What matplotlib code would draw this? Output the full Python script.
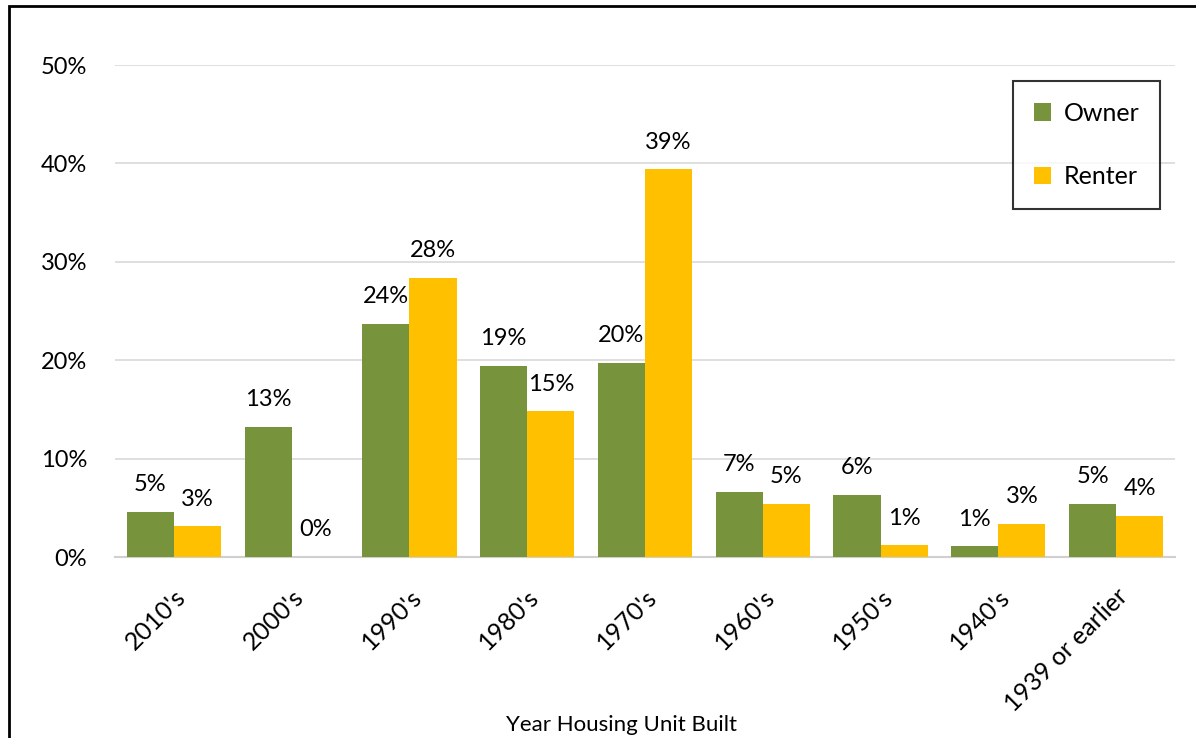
import numpy as np
import matplotlib.pyplot as plt
from matplotlib.patches import Rectangle

categories = ["2010's", "2000's", "1990's", "1980's", "1970's",
              "1960's", "1950's", "1940's", "1939 or earlier"]
owner = [4.6, 13.2, 23.7, 19.4, 19.7, 6.6, 6.3, 1.1, 5.4]
renter = [3.1, 0.0, 28.4, 14.8, 39.4, 5.4, 1.2, 3.4, 4.2]

green = '#77933C'
yellow = '#FFC000'

plt.rcParams['font.family'] = ['Lato', 'DejaVu Sans']

fig = plt.figure(figsize=(11.96, 7.38), dpi=100)
ax = fig.add_axes([115/1196, 1 - 557/738, 1060/1196, 492/738])

x = np.arange(len(categories))
w = 0.4
b1 = ax.bar(x - w/2, owner, w, color=green, label='Owner', zorder=3)
b2 = ax.bar(x + w/2, renter, w, color=yellow, label='Renter', zorder=3)

for bars, vals in ((b1, owner), (b2, renter)):
    for rect, v in zip(bars, vals):
        ax.annotate('%d%%' % round(v), (rect.get_x() + rect.get_width()/2, v),
                    xytext=(0, 12), textcoords='offset points',
                    ha='center', va='bottom', fontsize=17)

ax.set_xlim(-0.5, len(categories) - 0.5)
ax.set_ylim(0, 50)
ax.set_yticks(range(0, 51, 10))
ax.set_yticklabels(['%d%%' % t for t in range(0, 51, 10)])
ax.yaxis.grid(True, color='#d9d9d9', linewidth=1.2, zorder=0)
ax.set_axisbelow(True)
for s in ['top', 'right', 'left']:
    ax.spines[s].set_visible(False)
ax.spines['bottom'].set_color('#d0d0d0')
ax.spines['bottom'].set_linewidth(1.5)
ax.tick_params(axis='both', length=0, labelsize=17)
ax.tick_params(axis='y', pad=20)
ax.set_xticks(x)
ax.set_xticklabels(categories, rotation=45, ha='right', rotation_mode='anchor',
                   fontsize=18)
ax.tick_params(axis='x', pad=20)
ax.set_xlabel('Year Housing Unit Built', fontsize=16)
ax.xaxis.set_label_coords(0.478, -0.322)

leg = ax.legend(loc='upper right', bbox_to_anchor=((1160 - 115)/1060, 1 - 16/492),
                frameon=True, fancybox=False, fontsize=18, labelspacing=1.62,
                handlelength=0.7, handleheight=0.7, borderpad=0.82,
                handletextpad=0.5, borderaxespad=0)
leg.get_frame().set_edgecolor('black')
leg.get_frame().set_linewidth(1.5)

# outer frame of the chart
fig.patches.append(Rectangle((9/1196, -0.1), 1.2, 1 - 6/738 + 0.1,
                             transform=fig.transFigure, fill=False,
                             edgecolor='black', linewidth=2))

fig.savefig('out.png', dpi=100)
